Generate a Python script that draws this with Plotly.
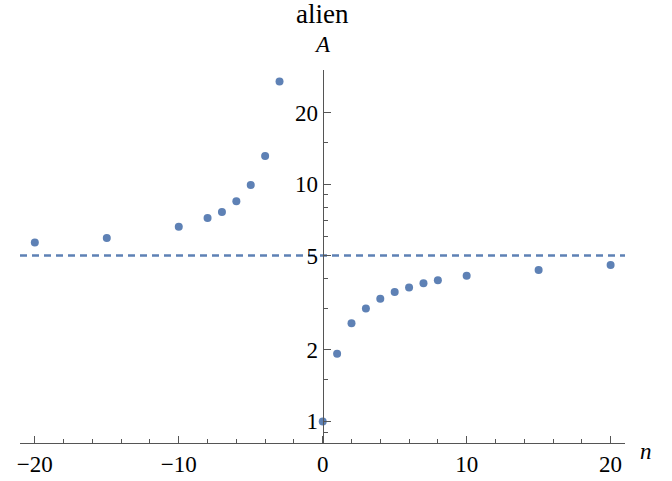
import plotly.graph_objects as go

n_vals = [-20, -15, -10, -8, -7, -6, -5, -4, -3, 0, 1, 2, 3, 4, 5, 6, 7, 8, 10, 15, 20]
a_vals = [5.68, 5.93, 6.62, 7.20, 7.63, 8.46, 9.92, 13.15, 27.1,
          1.0, 1.93, 2.59, 2.99, 3.29, 3.51, 3.67, 3.82, 3.93, 4.11, 4.35, 4.56]
asymptote = 5
x_range = [-21.03, 21.0]
y_major = [1, 2, 5, 10, 20]
y_minor = [0.9, 1.5, 3, 4, 6, 7, 8, 9, 15, 30]
x_major = [-20, -10, 0, 10, 20]
x_minor = [-18, -16, -14, -12, -8, -6, -4, -2, 2, 4, 6, 8, 12, 14, 16, 18]

blue = "#5E81B5"
axis_col = "#555555"
font_fam = "Liberation Serif, Times New Roman, serif"
x0 = 21.03 / 42.03

fig = go.Figure()
fig.add_trace(go.Scatter(
    x=x_range, y=[asymptote, asymptote], mode="lines",
    line=dict(color=blue, width=2.5, dash="7px,5px"),
    hoverinfo="skip", showlegend=False, cliponaxis=False))
fig.add_trace(go.Scatter(
    x=n_vals, y=a_vals, mode="markers",
    marker=dict(color=blue, size=8), showlegend=False, cliponaxis=False))

fig.update_layout(
    width=672, height=481,
    margin=dict(l=20, r=47, t=70, b=38),
    paper_bgcolor="white", plot_bgcolor="white",
    font=dict(family=font_fam, size=23, color="black"),
    xaxis=dict(
        range=x_range, showgrid=False, zeroline=False, automargin=False,
        showline=True, linecolor=axis_col, linewidth=1.2,
        tickmode="array", tickvals=x_major,
        ticktext=["\u221220", "\u221210", "0", "10", "20"],
        ticks="inside", ticklen=7, tickcolor=axis_col, tickwidth=1,
        minor=dict(tickmode="array", tickvals=x_minor, ticks="inside",
                   ticklen=4, tickcolor=axis_col, tickwidth=1, showgrid=False),
        tickfont=dict(size=23, family=font_fam),
    ),
    yaxis=dict(
        type="log", range=[-0.091, 1.481], showgrid=False, zeroline=False,
        anchor="free", position=x0, automargin=False,
        showline=True, linecolor=axis_col, linewidth=1.2,
        tickmode="array", tickvals=y_major,
        ticktext=[str(v) for v in y_major],
        ticks="inside", ticklen=7, tickcolor=axis_col, tickwidth=1,
        minor=dict(tickmode="array", tickvals=y_minor, ticks="inside",
                   ticklen=4, tickcolor=axis_col, tickwidth=1, showgrid=False),
        tickfont=dict(size=23, family=font_fam),
    ),
    annotations=[
        dict(text="alien", xref="paper", yref="paper", x=x0, y=1.150,
             xanchor="center", yanchor="middle", showarrow=False,
             font=dict(size=27, family=font_fam)),
        dict(text="<i>A</i>", xref="paper", yref="paper", x=x0, y=1.0697,
             xanchor="center", yanchor="middle", showarrow=False,
             font=dict(size=23, family=font_fam)),
        dict(text="<i>n</i>", xref="paper", yref="paper", x=1.0347, y=-0.023,
             xanchor="center", yanchor="middle", showarrow=False,
             font=dict(size=23, family=font_fam)),
    ],
)

fig.write_html("out.html")
